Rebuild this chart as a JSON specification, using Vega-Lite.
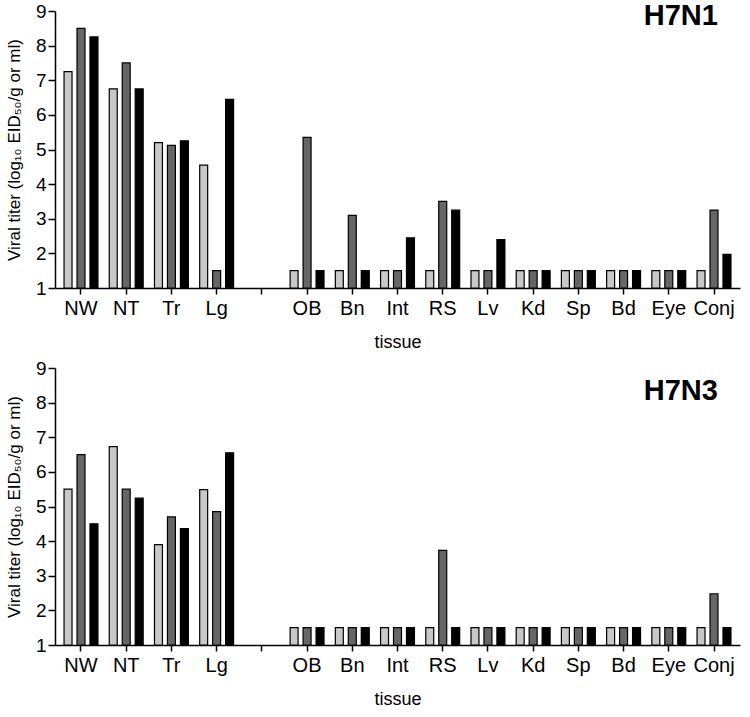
{
  "$schema": "https://vega.github.io/schema/vega-lite/v6.json",
  "padding": {"top": 2, "left": 5, "right": 5, "bottom": 3},
  "spacing": 8,
  "background": "white",
  "config": {
    "font": "Liberation Sans",
    "view": {"stroke": null},
    "axis": {"grid": false, "domainColor": "#000000", "domainWidth": 1.5, "tickColor": "#000000", "tickWidth": 1.5,
             "labelColor": "#000000", "titleColor": "#000000", "labelFont": "Liberation Sans", "titleFont": "Liberation Sans", "titleFontWeight": "normal"},
    "axisX": {"labelAngle": 0, "labelFontSize": 20, "titleFontSize": 18, "tickSize": 6, "labelPadding": 4, "titlePadding": 15},
    "axisY": {"labelFontSize": 19, "titleFontSize": 17, "tickSize": 7, "labelPadding": 2, "titlePadding": 12}
  },
  "datasets": {
    "n1": [
      {"tissue": "NW", "group": "a", "titer": 7.25}, {"tissue": "NW", "group": "b", "titer": 8.5}, {"tissue": "NW", "group": "c", "titer": 8.25},
      {"tissue": "NT", "group": "a", "titer": 6.75}, {"tissue": "NT", "group": "b", "titer": 7.5}, {"tissue": "NT", "group": "c", "titer": 6.75},
      {"tissue": "Tr", "group": "a", "titer": 5.2}, {"tissue": "Tr", "group": "b", "titer": 5.12}, {"tissue": "Tr", "group": "c", "titer": 5.25},
      {"tissue": "Lg", "group": "a", "titer": 4.55}, {"tissue": "Lg", "group": "b", "titer": 1.5}, {"tissue": "Lg", "group": "c", "titer": 6.45},
      {"tissue": "OB", "group": "a", "titer": 1.5}, {"tissue": "OB", "group": "b", "titer": 5.35}, {"tissue": "OB", "group": "c", "titer": 1.5},
      {"tissue": "Bn", "group": "a", "titer": 1.5}, {"tissue": "Bn", "group": "b", "titer": 3.1}, {"tissue": "Bn", "group": "c", "titer": 1.5},
      {"tissue": "Int", "group": "a", "titer": 1.5}, {"tissue": "Int", "group": "b", "titer": 1.5}, {"tissue": "Int", "group": "c", "titer": 2.45},
      {"tissue": "RS", "group": "a", "titer": 1.5}, {"tissue": "RS", "group": "b", "titer": 3.5}, {"tissue": "RS", "group": "c", "titer": 3.25},
      {"tissue": "Lv", "group": "a", "titer": 1.5}, {"tissue": "Lv", "group": "b", "titer": 1.5}, {"tissue": "Lv", "group": "c", "titer": 2.4},
      {"tissue": "Kd", "group": "a", "titer": 1.5}, {"tissue": "Kd", "group": "b", "titer": 1.5}, {"tissue": "Kd", "group": "c", "titer": 1.5},
      {"tissue": "Sp", "group": "a", "titer": 1.5}, {"tissue": "Sp", "group": "b", "titer": 1.5}, {"tissue": "Sp", "group": "c", "titer": 1.5},
      {"tissue": "Bd", "group": "a", "titer": 1.5}, {"tissue": "Bd", "group": "b", "titer": 1.5}, {"tissue": "Bd", "group": "c", "titer": 1.5},
      {"tissue": "Eye", "group": "a", "titer": 1.5}, {"tissue": "Eye", "group": "b", "titer": 1.5}, {"tissue": "Eye", "group": "c", "titer": 1.5},
      {"tissue": "Conj", "group": "a", "titer": 1.5}, {"tissue": "Conj", "group": "b", "titer": 3.25}, {"tissue": "Conj", "group": "c", "titer": 1.97}
    ],
    "n3": [
      {"tissue": "NW", "group": "a", "titer": 5.5}, {"tissue": "NW", "group": "b", "titer": 6.5}, {"tissue": "NW", "group": "c", "titer": 4.5},
      {"tissue": "NT", "group": "a", "titer": 6.73}, {"tissue": "NT", "group": "b", "titer": 5.5}, {"tissue": "NT", "group": "c", "titer": 5.24},
      {"tissue": "Tr", "group": "a", "titer": 3.9}, {"tissue": "Tr", "group": "b", "titer": 4.7}, {"tissue": "Tr", "group": "c", "titer": 4.36},
      {"tissue": "Lg", "group": "a", "titer": 5.49}, {"tissue": "Lg", "group": "b", "titer": 4.85}, {"tissue": "Lg", "group": "c", "titer": 6.55},
      {"tissue": "OB", "group": "a", "titer": 1.5}, {"tissue": "OB", "group": "b", "titer": 1.5}, {"tissue": "OB", "group": "c", "titer": 1.5},
      {"tissue": "Bn", "group": "a", "titer": 1.5}, {"tissue": "Bn", "group": "b", "titer": 1.5}, {"tissue": "Bn", "group": "c", "titer": 1.5},
      {"tissue": "Int", "group": "a", "titer": 1.5}, {"tissue": "Int", "group": "b", "titer": 1.5}, {"tissue": "Int", "group": "c", "titer": 1.5},
      {"tissue": "RS", "group": "a", "titer": 1.5}, {"tissue": "RS", "group": "b", "titer": 3.73}, {"tissue": "RS", "group": "c", "titer": 1.5},
      {"tissue": "Lv", "group": "a", "titer": 1.5}, {"tissue": "Lv", "group": "b", "titer": 1.5}, {"tissue": "Lv", "group": "c", "titer": 1.5},
      {"tissue": "Kd", "group": "a", "titer": 1.5}, {"tissue": "Kd", "group": "b", "titer": 1.5}, {"tissue": "Kd", "group": "c", "titer": 1.5},
      {"tissue": "Sp", "group": "a", "titer": 1.5}, {"tissue": "Sp", "group": "b", "titer": 1.5}, {"tissue": "Sp", "group": "c", "titer": 1.5},
      {"tissue": "Bd", "group": "a", "titer": 1.5}, {"tissue": "Bd", "group": "b", "titer": 1.5}, {"tissue": "Bd", "group": "c", "titer": 1.5},
      {"tissue": "Eye", "group": "a", "titer": 1.5}, {"tissue": "Eye", "group": "b", "titer": 1.5}, {"tissue": "Eye", "group": "c", "titer": 1.5},
      {"tissue": "Conj", "group": "a", "titer": 1.5}, {"tissue": "Conj", "group": "b", "titer": 2.48}, {"tissue": "Conj", "group": "c", "titer": 1.5}
    ]
  },
  "vconcat": [
    {
      "width": 685, "height": 277,
      "layer": [
        {
          "data": {"name": "n1"},
          "mark": {"type": "bar", "stroke": "#000000", "strokeWidth": 1.2},
          "encoding": {
            "x": {"field": "tissue", "type": "nominal", "title": "tissue",
                  "scale": {"domain": ["NW","NT","Tr","Lg"," ","OB","Bn","Int","RS","Lv","Kd","Sp","Bd","Eye","Conj"], "paddingInner": 0.25, "paddingOuter": 0.2}},
            "xOffset": {"field": "group", "type": "nominal", "scale": {"domain": ["a","b","c"], "paddingInner": 0.385, "paddingOuter": 0}},
            "y": {"field": "titer", "type": "quantitative", "title": "Viral titer (log₁₀ EID₅₀/g or ml)",
                  "scale": {"domain": [1, 9], "nice": false, "zero": false},
                  "axis": {"tickCount": 8, "labelOverlap": false}},
            "y2": {"datum": 1},
            "fill": {"field": "group", "type": "nominal", "legend": null,
                     "scale": {"domain": ["a","b","c"], "range": ["#c8c8c8","#666666","#000000"]}}
          }
        },
        {
          "data": {"values": [{"label": "H7N1"}]},
          "mark": {"type": "text", "fontSize": 29, "fontWeight": "bold", "dx": 12, "color": "#000000"},
          "encoding": {
            "x": {"datum": "Eye", "type": "nominal"},
            "y": {"datum": 8.85, "type": "quantitative"},
            "text": {"field": "label"}
          }
        }
      ]
    },
    {
      "width": 685, "height": 277,
      "layer": [
        {
          "data": {"name": "n3"},
          "mark": {"type": "bar", "stroke": "#000000", "strokeWidth": 1.2},
          "encoding": {
            "x": {"field": "tissue", "type": "nominal", "title": "tissue",
                  "scale": {"domain": ["NW","NT","Tr","Lg"," ","OB","Bn","Int","RS","Lv","Kd","Sp","Bd","Eye","Conj"], "paddingInner": 0.25, "paddingOuter": 0.2}},
            "xOffset": {"field": "group", "type": "nominal", "scale": {"domain": ["a","b","c"], "paddingInner": 0.385, "paddingOuter": 0}},
            "y": {"field": "titer", "type": "quantitative", "title": "Viral titer (log₁₀ EID₅₀/g or ml)",
                  "scale": {"domain": [1, 9], "nice": false, "zero": false},
                  "axis": {"tickCount": 8, "labelOverlap": false}},
            "y2": {"datum": 1},
            "fill": {"field": "group", "type": "nominal", "legend": null,
                     "scale": {"domain": ["a","b","c"], "range": ["#c8c8c8","#666666","#000000"]}}
          }
        },
        {
          "data": {"values": [{"label": "H7N3"}]},
          "mark": {"type": "text", "fontSize": 29, "fontWeight": "bold", "dx": 12, "color": "#000000"},
          "encoding": {
            "x": {"datum": "Eye", "type": "nominal"},
            "y": {"datum": 8.33, "type": "quantitative"},
            "text": {"field": "label"}
          }
        }
      ]
    }
  ]
}
